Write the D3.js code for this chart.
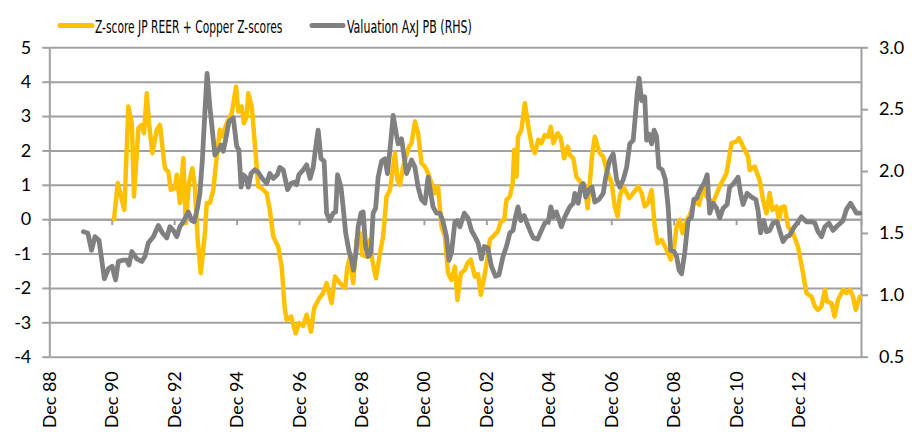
<!DOCTYPE html>
<html>
<head>
<meta charset="utf-8">
<script src="https://cdn.jsdelivr.net/npm/d3@7"></script>
<style>
  body { margin: 0; background: #fff; }
  svg { display: block; }
</style>
</head>
<body>
<div id="chart"></div>
<script>
// Series, x in decimal years (Dec 88 = 1988.917)
var zYears = [1990.99, 1991.11, 1991.24, 1991.32, 1991.45, 1991.56, 1991.63, 1991.77, 1991.88, 1991.95,
  1992.04, 1992.11, 1992.22, 1992.36, 1992.46, 1992.62, 1992.73, 1992.81, 1992.94, 1993.0,
  1993.10, 1993.21, 1993.29, 1993.39, 1993.50, 1993.58, 1993.67, 1993.77, 1993.90, 1993.96,
  1994.06, 1994.17, 1994.28, 1994.38, 1994.44, 1994.60, 1994.76, 1994.90, 1994.97, 1995.08,
  1995.15, 1995.24, 1995.29, 1995.40, 1995.50, 1995.61, 1995.72, 1995.88, 1995.98, 1996.09,
  1996.25, 1996.36, 1996.46, 1996.52, 1996.66, 1996.81, 1996.91, 1997.05, 1997.16, 1997.30,
  1997.40, 1997.53, 1997.69, 1997.80, 1997.96, 1998.07, 1998.23, 1998.39, 1998.47, 1998.55,
  1998.65, 1998.76, 1998.87, 1998.94, 1999.08, 1999.19, 1999.26, 1999.38, 1999.51, 1999.61,
  1999.72, 1999.83, 1999.93, 1999.99, 2000.07, 2000.15, 2000.25, 2000.36, 2000.44, 2000.52,
  2000.63, 2000.73, 2000.84, 2000.95, 2001.05, 2001.16, 2001.27, 2001.37, 2001.48, 2001.59,
  2001.69, 2001.80, 2001.91, 2001.99, 2002.10, 2002.23, 2002.31, 2002.42, 2002.55, 2002.65,
  2002.74, 2002.87, 2002.96, 2003.03, 2003.13, 2003.28, 2003.38, 2003.49, 2003.56, 2003.67,
  2003.76, 2003.81, 2003.88, 2003.93, 2004.04, 2004.15, 2004.28, 2004.38, 2004.47, 2004.58,
  2004.68, 2004.79, 2004.90, 2004.98, 2005.06, 2005.20, 2005.30, 2005.41, 2005.52, 2005.59,
  2005.70, 2005.80, 2005.88, 2005.96, 2006.07, 2006.16, 2006.23, 2006.30, 2006.39, 2006.48,
  2006.55, 2006.66, 2006.77, 2006.93, 2007.03, 2007.12, 2007.19, 2007.30, 2007.41, 2007.49,
  2007.62, 2007.78, 2007.89, 2007.99, 2008.10, 2008.21, 2008.31, 2008.40, 2008.53, 2008.69,
  2008.82, 2008.93, 2009.01, 2009.11, 2009.20, 2009.33, 2009.43, 2009.59, 2009.73, 2009.86,
  2009.97, 2010.17, 2010.39, 2010.61, 2010.77, 2010.93, 2011.01, 2011.14, 2011.30, 2011.35,
  2011.51, 2011.67, 2011.78, 2011.89, 2011.99, 2012.08, 2012.21, 2012.29, 2012.37, 2012.47,
  2012.58, 2012.74, 2012.90, 2013.06, 2013.17, 2013.33, 2013.44, 2013.54, 2013.65, 2013.76,
  2013.83, 2013.97, 2014.07, 2014.18, 2014.34, 2014.45, 2014.56, 2014.66, 2014.75, 2014.88];
var zScores = [0.0, 1.05, 0.56, 0.27, 3.28, 2.79, 0.66, 2.65, 2.74, 2.5,
  3.66, 2.79, 1.92, 2.6, 2.74, 1.48, 1.38, 0.85, 0.9, 1.29,
  0.47, 1.77, -0.12, 1.05, 1.48, 0.95, -0.6, -1.57, -0.41, 0.47,
  0.47, 0.85, 1.82, 2.6, 2.4, 2.79, 3.08, 3.86, 3.13, 3.28,
  2.79, 2.98, 3.66, 3.28, 2.21, 0.95, 0.9, 0.76, 0.27, -0.5,
  -0.8, -1.38, -2.6, -2.93, -2.83, -3.32, -3.02, -3.10, -2.78, -3.27,
  -2.59, -2.35, -2.15, -1.86, -2.44, -1.67, -1.86, -2.0, -1.38, -1.09,
  -1.86, -0.6, -0.41, -1.04, -1.09, -0.6, -1.18, -1.72, -0.99, -0.5,
  0.66, 0.85, 1.53, 1.92, 1.14, 1.0, 1.53, 1.87, 2.11, 2.21,
  2.84, 2.5, 1.63, 1.53, 1.34, 1.05, 0.76, 0.95, -0.21, -0.5,
  -1.57, -1.77, -1.38, -2.35, -1.57, -1.47, -1.28, -1.18, -1.67, -1.6,
  -2.2, -1.57, -1.09, -0.6, -0.5, -0.36, -0.07, -0.02, 0.56, 0.66,
  1.05, 2.02, 1.24, 2.4, 2.6, 3.37, 2.6, 2.11, 1.92, 2.31,
  2.21, 2.45, 2.4, 2.69, 2.21, 2.5, 2.36, 1.77, 2.11, 1.87,
  1.77, 1.24, 1.14, 1.05, 0.95, 0.32, 1.05, 1.82, 2.4, 2.11,
  1.92, 1.82, 1.43, 1.05, 0.37, 0.08, 0.66, 0.95, 0.76, 0.61,
  0.76, 0.95, 0.76, 0.37, 0.47, 0.85, -0.21, -0.7, -0.6, -0.89,
  -1.18, -0.8, -0.21, -0.02, -0.41, -0.02, 0.1, 0.56, 0.42, 0.95,
  0.66, 0.47, 0.95, 1.34, 2.21, 2.26, 2.36, 2.11, 1.82, 1.43,
  1.53, 1.14, 0.56, 0.17, 0.76, 0.27, 0.37, -0.02, 0.35, 0.37,
  -0.21, -0.41, -0.8, -1.57, -2.15, -2.25, -2.54, -2.64, -2.54, -2.06,
  -2.4, -2.44, -2.83, -2.35, -2.06, -2.15, -2.06, -2.25, -2.64, -2.25];

var pbYears = [1990.01, 1990.15, 1990.27, 1990.38, 1990.51, 1990.68, 1990.81, 1990.93, 1991.04, 1991.13,
  1991.29, 1991.40, 1991.47, 1991.56, 1991.72, 1991.88, 1991.98, 1992.09, 1992.25, 1992.41,
  1992.54, 1992.68, 1992.78, 1992.89, 1993.00, 1993.10, 1993.21, 1993.37, 1993.48, 1993.56,
  1993.67, 1993.74, 1993.82, 1993.90, 1993.97, 1994.06, 1994.14, 1994.22, 1994.33, 1994.42,
  1994.49, 1994.60, 1994.67, 1994.81, 1994.92, 1994.99, 1995.06, 1995.13, 1995.21, 1995.29,
  1995.38, 1995.50, 1995.61, 1995.74, 1995.88, 1995.98, 1996.09, 1996.22, 1996.30, 1996.41,
  1996.55, 1996.66, 1996.76, 1996.84, 1996.91, 1997.05, 1997.16, 1997.27, 1997.37, 1997.48,
  1997.53, 1997.62, 1997.72, 1997.80, 1997.90, 1998.01, 1998.09, 1998.15, 1998.26, 1998.33,
  1998.41, 1998.51, 1998.60, 1998.66, 1998.74, 1998.81, 1998.90, 1998.97, 1999.05, 1999.13,
  1999.22, 1999.29, 1999.37, 1999.45, 1999.56, 1999.67, 1999.75, 1999.86, 1999.93, 2000.01,
  2000.09, 2000.20, 2000.27, 2000.36, 2000.44, 2000.52, 2000.63, 2000.73, 2000.84, 2000.95,
  2001.05, 2001.21, 2001.32, 2001.43, 2001.53, 2001.64, 2001.72, 2001.80, 2001.91, 2001.99,
  2002.07, 2002.21, 2002.33, 2002.44, 2002.55, 2002.65, 2002.76, 2002.85, 2002.96, 2003.08,
  2003.21, 2003.32, 2003.45, 2003.56, 2003.67, 2003.77, 2003.85, 2003.93, 2004.02, 2004.13,
  2004.20, 2004.31, 2004.42, 2004.56, 2004.68, 2004.79, 2004.90, 2004.98, 2005.06, 2005.16,
  2005.32, 2005.43, 2005.59, 2005.70, 2005.75, 2005.86, 2005.94, 2006.02, 2006.10, 2006.21,
  2006.30, 2006.39, 2006.52, 2006.66, 2006.74, 2006.87, 2006.98, 2007.09, 2007.19, 2007.30,
  2007.41, 2007.51, 2007.62, 2007.67, 2007.75, 2007.81, 2007.89, 2007.99, 2008.05, 2008.12,
  2008.21, 2008.29, 2008.37, 2008.44, 2008.55, 2008.65, 2008.74, 2008.82, 2008.93, 2009.01,
  2009.09, 2009.17, 2009.27, 2009.38, 2009.49, 2009.56, 2009.65, 2009.73, 2009.81, 2009.89,
  2009.99, 2010.07, 2010.18, 2010.29, 2010.39, 2010.50, 2010.63, 2010.71, 2010.84, 2010.98,
  2011.06, 2011.14, 2011.27, 2011.41, 2011.55, 2011.62, 2011.70, 2011.80, 2011.89, 2011.99,
  2012.10, 2012.23, 2012.31, 2012.42, 2012.53, 2012.63, 2012.76, 2012.90, 2013.01, 2013.17,
  2013.33, 2013.44, 2013.54, 2013.65, 2013.76, 2013.89, 2014.02, 2014.13, 2014.26, 2014.34,
  2014.45, 2014.58, 2014.68, 2014.77, 2014.88];
var pbValues = [1.51, 1.50, 1.36, 1.47, 1.44, 1.13, 1.21, 1.23, 1.12, 1.27,
  1.28, 1.28, 1.24, 1.35, 1.29, 1.27, 1.31, 1.42, 1.47, 1.56,
  1.50, 1.46, 1.55, 1.52, 1.47, 1.55, 1.59, 1.67, 1.60, 1.59,
  1.71, 1.82, 2.09, 2.47, 2.79, 2.52, 2.33, 2.13, 2.17, 2.21,
  2.16, 2.30, 2.40, 2.43, 2.20, 2.17, 1.87, 1.97, 1.95, 1.87,
  1.98, 2.01, 1.99, 1.94, 1.90, 1.98, 1.94, 1.97, 2.03, 2.01,
  1.85, 1.90, 1.91, 1.89, 1.97, 2.01, 2.05, 1.94, 2.03, 2.25,
  2.33, 2.10, 2.08, 1.66, 1.60, 1.66, 1.67, 1.97, 1.87, 1.71,
  1.50, 1.36, 1.28, 1.20, 1.34, 1.55, 1.66, 1.67, 1.39, 1.31,
  1.34, 1.66, 1.70, 1.95, 2.08, 2.10, 1.98, 2.25, 2.45, 2.33,
  2.22, 2.26, 2.14, 1.98, 2.03, 2.09, 2.03, 1.87, 1.77, 1.74,
  1.95, 1.71, 1.66, 1.66, 1.59, 1.47, 1.28, 1.34, 1.59, 1.60,
  1.55, 1.66, 1.62, 1.52, 1.47, 1.42, 1.29, 1.39, 1.38, 1.23,
  1.15, 1.16, 1.31, 1.39, 1.50, 1.52, 1.63, 1.71, 1.60, 1.64,
  1.59, 1.52, 1.46, 1.45, 1.52, 1.58, 1.59, 1.71, 1.63, 1.67,
  1.55, 1.63, 1.71, 1.74, 1.82, 1.74, 1.87, 1.90, 1.79, 1.85,
  1.87, 1.75, 1.77, 1.82, 1.95, 2.09, 2.14, 1.93, 1.87, 1.93,
  2.03, 2.22, 2.25, 2.39, 2.63, 2.75, 2.57, 2.60, 2.25, 2.30,
  2.22, 2.33, 2.28, 2.03, 2.01, 1.93, 1.71, 1.36, 1.35, 1.31,
  1.20, 1.17, 1.34, 1.60, 1.63, 1.77, 1.78, 1.83, 1.87, 1.90,
  1.97, 1.66, 1.74, 1.70, 1.62, 1.70, 1.73, 1.87, 1.90, 1.95,
  1.82, 1.73, 1.82, 1.79, 1.77, 1.68, 1.50, 1.60, 1.51, 1.52,
  1.58, 1.59, 1.52, 1.43, 1.47, 1.48, 1.54, 1.59, 1.63, 1.59,
  1.59, 1.58, 1.51, 1.47, 1.55, 1.58, 1.52, 1.55, 1.58, 1.60,
  1.69, 1.74, 1.70, 1.66, 1.66];

var leftTicks = [-4, -3, -2, -1, 0, 1, 2, 3, 4, 5];
var rightTicks = [0.5, 1.0, 1.5, 2.0, 2.5, 3.0];
var xTickYears = [1988.917, 1990.917, 1992.917, 1994.917, 1996.917, 1998.917, 2000.917,
  2002.917, 2004.917, 2006.917, 2008.917, 2010.917, 2012.917, 2014.917];
var xTickLabels = ["Dec 88", "Dec 90", "Dec 92", "Dec 94", "Dec 96", "Dec 98", "Dec 00",
  "Dec 02", "Dec 04", "Dec 06", "Dec 08", "Dec 10", "Dec 12", ""];
var seriesNames = ["Z-score JP REER + Copper Z-scores", "Valuation AxJ PB (RHS)"];
var seriesColors = ["#FFC000", "#808080"];

var width = 912, height = 432;
var margin = { top: 47.3, right: 51, bottom: 75.3, left: 49.3 };
var gridColor = "#a0a0a0";
var tickFont = "Lato, 'Noto Sans', sans-serif";

var svg = d3.select("#chart").append("svg")
  .attr("width", width)
  .attr("height", height);

var x = d3.scaleLinear()
  .domain([1988.917, 2014.917])
  .range([margin.left, width - margin.right]);
var yL = d3.scaleLinear()
  .domain([-4, 5])
  .range([height - margin.bottom, margin.top]);
var yR = d3.scaleLinear()
  .domain([0.5, 3.0])
  .range([height - margin.bottom, margin.top]);

// gridlines
svg.append("g")
  .attr("transform", "translate(" + margin.left + ",0)")
  .call(d3.axisLeft(yL).tickValues(leftTicks).tickSize(-(x.range()[1] - margin.left)).tickFormat(""))
  .call(g => g.select(".domain").remove())
  .call(g => g.selectAll("line").attr("stroke", gridColor).attr("stroke-width", 2));

// left axis
svg.append("g")
  .attr("transform", "translate(" + margin.left + ",0)")
  .call(d3.axisLeft(yL).tickValues(leftTicks).tickSize(7).tickSizeOuter(0).tickPadding(11)
    .tickFormat(d => String(d)))
  .call(g => g.select(".domain").attr("stroke", gridColor).attr("stroke-width", 2))
  .call(g => g.selectAll("line").attr("stroke", gridColor).attr("stroke-width", 2))
  .call(g => g.selectAll("text").attr("font-family", tickFont).attr("font-size", 18).attr("fill", "#000"));

// right axis
svg.append("g")
  .attr("transform", "translate(" + x.range()[1] + ",0)")
  .call(d3.axisRight(yR).tickValues(rightTicks).tickSize(7).tickSizeOuter(0).tickPadding(11)
    .tickFormat(d3.format(".1f")))
  .call(g => g.select(".domain").attr("stroke", gridColor).attr("stroke-width", 2))
  .call(g => g.selectAll("line").attr("stroke", gridColor).attr("stroke-width", 2))
  .call(g => g.selectAll("text").attr("font-family", tickFont).attr("font-size", 18).attr("fill", "#000"));

// category axis crossing at zero
svg.append("g")
  .attr("transform", "translate(0," + yL(0) + ")")
  .call(d3.axisBottom(x).tickValues(xTickYears).tickSize(6).tickSizeOuter(0).tickFormat(""))
  .call(g => g.select(".domain").attr("stroke", gridColor).attr("stroke-width", 2))
  .call(g => g.selectAll("line").attr("stroke", gridColor).attr("stroke-width", 2));

// category labels, rotated, below the plot
svg.append("g").selectAll("text")
  .data(xTickYears)
  .join("text")
  .attr("transform", d => "translate(" + x(d) + "," + (height - margin.bottom + 14.5) + ") rotate(-90)")
  .attr("dy", "0.36em")
  .attr("text-anchor", "end")
  .attr("font-family", tickFont)
  .attr("font-size", 18)
  .attr("fill", "#000")
  .text((d, i) => xTickLabels[i]);

// lines
var zLine = d3.line().x(d => x(d[0])).y(d => yL(d[1]));
var pbLine = d3.line().x(d => x(d[0])).y(d => yR(d[1]));

svg.append("path")
  .datum(zYears.map((d, i) => [d, zScores[i]]))
  .attr("fill", "none")
  .attr("stroke", seriesColors[0])
  .attr("stroke-width", 4.5)
  .attr("stroke-linejoin", "round")
  .attr("stroke-linecap", "round")
  .attr("d", zLine);

svg.append("path")
  .datum(pbYears.map((d, i) => [d, pbValues[i]]))
  .attr("fill", "none")
  .attr("stroke", seriesColors[1])
  .attr("stroke-width", 4.8)
  .attr("stroke-linejoin", "round")
  .attr("stroke-linecap", "round")
  .attr("d", pbLine);

// legend: condensed text, squeezed to the widths seen in the reference
var legendItems = [
  { name: seriesNames[0], color: seriesColors[0], x0: 60, x1: 92, tx: 95, tw: 187.5 },
  { name: seriesNames[1], color: seriesColors[1], x0: 312, x1: 343, tx: 347, tw: 125 }
];
var legend = svg.append("g");
legend.selectAll("line")
  .data(legendItems)
  .join("line")
  .attr("x1", d => d.x0).attr("x2", d => d.x1)
  .attr("y1", 25.5).attr("y2", 25.5)
  .attr("stroke", d => d.color)
  .attr("stroke-width", 5)
  .attr("stroke-linecap", "round");
legend.selectAll("text")
  .data(legendItems)
  .join("text")
  .attr("font-family", "'DejaVu Sans Condensed', 'DejaVu Sans', sans-serif")
  .attr("font-size", 18.5)
  .attr("fill", "#000")
  .text(d => d.name)
  .attr("transform", function (d) {
    var len = this.getComputedTextLength();
    return "translate(" + d.tx + ",33.3) scale(" + (d.tw / len) + ",1)";
  });
</script>
</body>
</html>
